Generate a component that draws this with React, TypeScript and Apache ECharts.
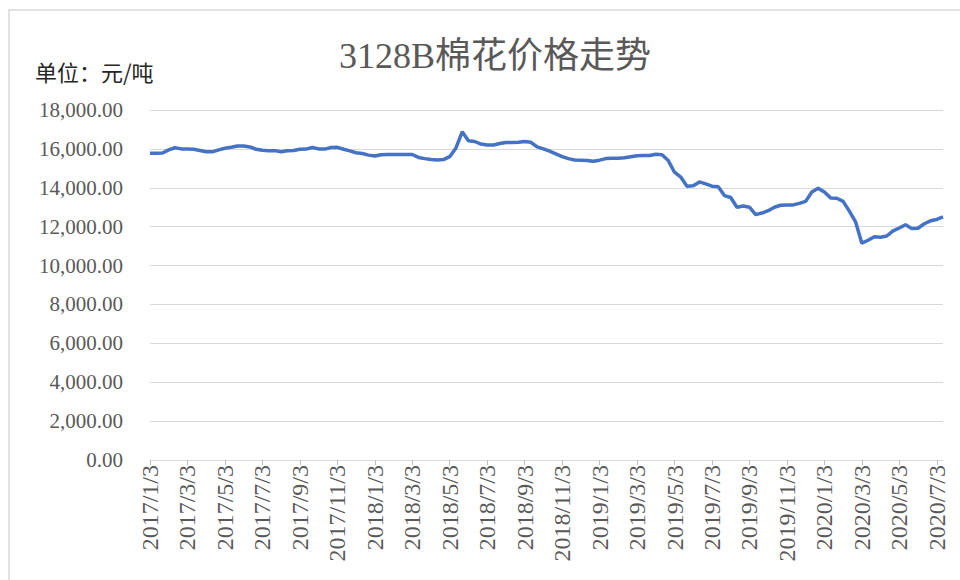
import React, { useEffect, useRef } from "react";
import * as echarts from "echarts";

const TITLE = "3128B棉花价格走势";
const UNIT = "单位：元/吨";

// Categories: the 3rd, 13th and 23rd of each month, 2017/1/3 .. 2020/7/13
const categories: string[] = [];
for (let y = 2017; y <= 2020; y++) {
  for (let m = 1; m <= 12; m++) {
    for (const d of [3, 13, 23]) {
      if (y === 2020 && (m > 7 || (m === 7 && d > 13))) continue;
      categories.push(`${y}/${m}/${d}`);
    }
  }
}

// Price (yuan/ton)
const prices: number[] = [
  15780, 15780, 15790, 15950, 16060, 16000, 15990, 15980, 15920, 15850,
  15850, 15950, 16030, 16080, 16150, 16150, 16100, 15980, 15930, 15910,
  15910, 15850, 15900, 15920, 15980, 15990, 16070, 16000, 15990, 16070,
  16080, 15980, 15900, 15800, 15760, 15680, 15630, 15700, 15710, 15710,
  15710, 15710, 15710, 15560, 15500, 15450, 15430, 15450, 15600, 16050,
  16880, 16420, 16380, 16250, 16200, 16200, 16280, 16330, 16330, 16340,
  16380, 16340, 16100, 16000, 15880, 15740, 15600, 15500, 15430, 15420,
  15400, 15360, 15420, 15500, 15520, 15520, 15540, 15600, 15650, 15660,
  15660, 15720, 15700, 15400, 14800, 14550, 14080, 14100, 14300, 14200,
  14080, 14050, 13600, 13500, 13000, 13060, 13000, 12620, 12700, 12820,
  13000, 13100, 13120, 13120, 13200, 13300, 13780, 13980, 13780, 13480,
  13460, 13300, 12800, 12250, 11150, 11300, 11480, 11460, 11520, 11780,
  11930, 12100, 11900, 11920, 12150, 12300, 12370, 12500,
];

const yMin = 0;
const yMax = 18000;
const yStep = 2000;

const fmt = (v: number) =>
  v.toLocaleString("en-US", { minimumFractionDigits: 2, maximumFractionDigits: 2 });

export default function App() {
  const ref = useRef<HTMLDivElement>(null);
  useEffect(() => {
    if (!ref.current) return;
    const chart = echarts.init(ref.current, undefined, { renderer: "svg" });
    const labelShow = (idx: number) => idx % 6 === 0;
    chart.setOption({
      animation: false,
      backgroundColor: "#ffffff",
      title: {
        text: TITLE,
        left: 490,
        top: 33,
        textAlign: "center",
        textStyle: {
          fontFamily: "'Liberation Serif', 'Noto Sans CJK SC', serif",
          fontSize: 36,
          fontWeight: "normal",
          color: "#595959",
        },
      },
      graphic: [
        {
          type: "rect",
          silent: true,
          shape: { x: 9, y: 10, width: 1000, height: 1000 },
          style: { fill: "none", stroke: "#d9d9d9", lineWidth: 1.5 },
        },
        {
          type: "text",
          x: 35,
          y: 71,
          style: {
            text: UNIT,
            fontFamily: "'Noto Sans CJK SC', sans-serif",
            fontSize: 22,
            fill: "#262626",
            textVerticalAlign: "middle",
          },
        },
      ],
      grid: { left: 150, right: 17, top: 110, bottom: 120, containLabel: false },
      xAxis: {
        type: "category",
        data: categories,
        boundaryGap: false,
        axisLine: { show: true, lineStyle: { color: "#d9d9d9", width: 1 } },
        axisTick: {
          show: true,
          interval: (idx: number) => labelShow(idx),
          length: 5,
          lineStyle: { color: "#bfbfbf" },
        },
        axisLabel: {
          interval: (idx: number) => labelShow(idx),
          rotate: 90,
          margin: 5,
          color: "#595959",
          fontFamily: "'Liberation Serif', serif",
          fontSize: 24,
        },
        splitLine: { show: false },
      },
      yAxis: {
        type: "value",
        min: yMin,
        max: yMax,
        interval: yStep,
        axisLine: { show: false },
        axisTick: { show: false },
        axisLabel: {
          formatter: (v: number) => fmt(v),
          margin: 27,
          color: "#595959",
          fontFamily: "'Liberation Serif', serif",
          fontSize: 21,
        },
        splitLine: { lineStyle: { color: "#d9d9d9", width: 1 } },
      },
      series: [
        {
          type: "line",
          data: prices,
          showSymbol: false,
          symbol: "none",
          lineStyle: { color: "#4472C4", width: 3.5 },
          itemStyle: { color: "#4472C4" },
        },
      ],
    });
    return () => chart.dispose();
  }, []);
  return (
    <div
      ref={ref}
      style={{ position: "fixed", left: 0, top: 0, width: 960, height: 580 }}
    />
  );
}
